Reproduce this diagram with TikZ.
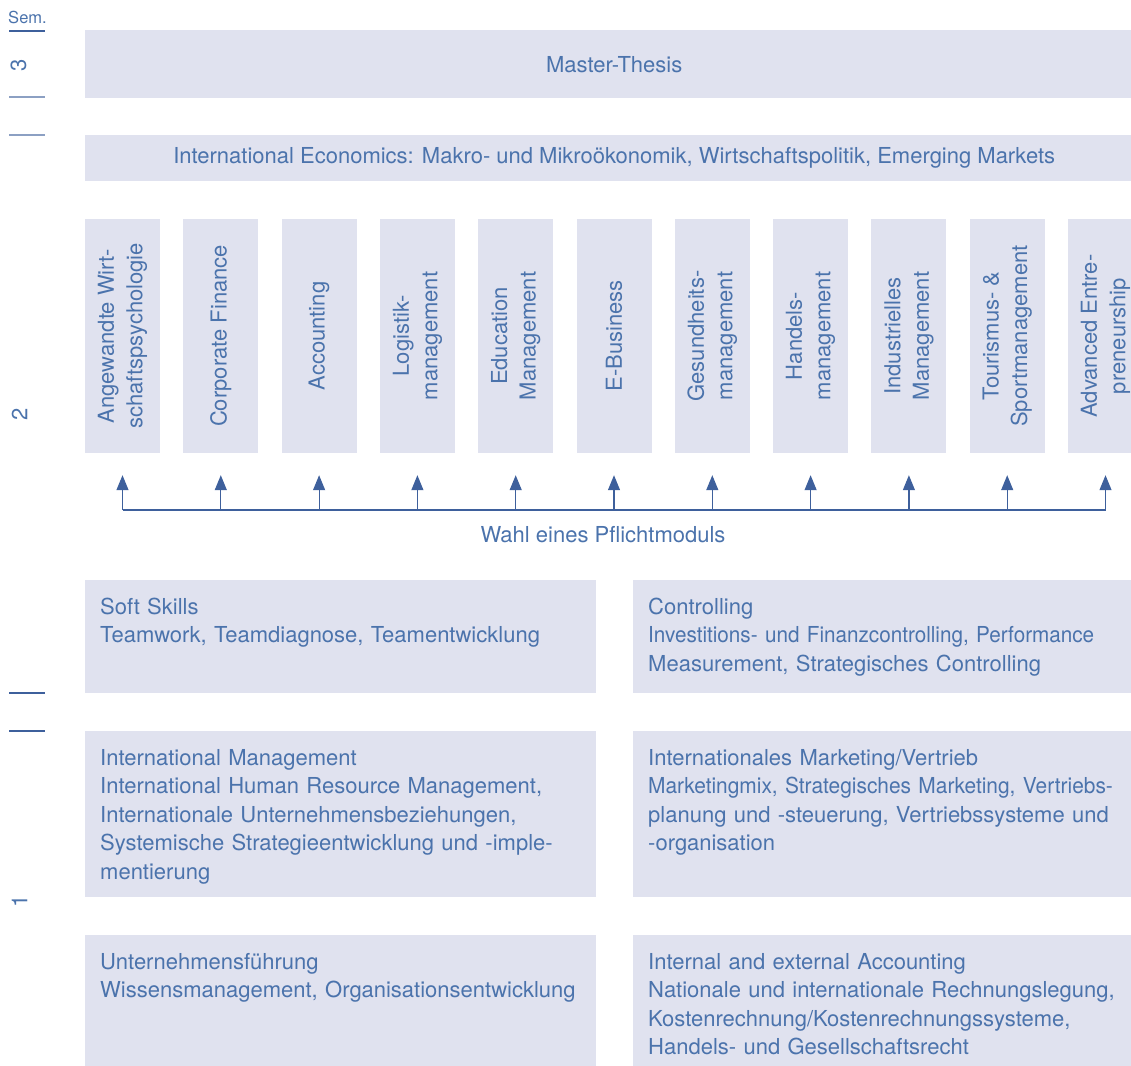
\documentclass[tikz,border=0pt]{standalone}
\usepackage{fontspec}
\setmainfont{TeX Gyre Heros}
\usetikzlibrary{arrows.meta}

\definecolor{semblue}{RGB}{75,115,172}
\definecolor{semline}{RGB}{62,96,156}
\definecolor{semgrey}{RGB}{140,160,195}
\definecolor{semfill}{RGB}{224,226,239}

\newcommand{\narrowline}[2]{{\addfontfeature{FakeStretch=#1}#2}}

\begin{document}
\begin{tikzpicture}[x=1pt,y=-1pt,
    font=\fontsize{22}{28.5}\selectfont,
    every node/.style={text=semblue}]

      \useasboundingbox (0,0) rectangle (1131,1065);
      \clip (0,0) rectangle (1131,1065);

      % semester scale
      \node[font=\fontsize{16.5}{18}\selectfont, anchor=base] (sem) at (27.5,24) {Sem.};
      \node[rotate=90] (s3) at (18.5,65) {3};
      \node[rotate=90] (s2) at (19.5,414) {2};
      \node[rotate=90] (s1) at (19.5,901) {1};
      \draw[semline, line width=1.4pt] (9,31) -- (45,31);
      \draw[semgrey, line width=1.4pt] (9,97) -- (45,97) (9,135) -- (45,135);
      \draw[semline, line width=1.4pt] (9,693) -- (45,693) (9,731) -- (45,731);

      \begin{scope}[every node/.style={fill=semfill,text=semblue,anchor=north west,
                                       minimum width=1058pt,inner sep=0pt}]
        \node[minimum height=68pt] (thesis) at (85,30)  {\raisebox{-2pt}{Master-Thesis}};
        \node[minimum height=46pt] (econ)   at (85,135) {International Economics: Makro- und Mikro\"okonomik, Wirtschaftspolitik, Emerging Markets};
      \end{scope}

      \begin{scope}[every node/.style={fill=semfill,text=semblue,rotate=90,align=center,
                                       minimum width=234pt,minimum height=75pt,inner sep=0pt}]
        \node (c1)  at (122.5,336)  {Angewandte Wirt-\\schaftspsychologie};
        \node (c2)  at (220.8,336)  {Corporate Finance};
        \node (c3)  at (319.1,336)  {Accounting};
        \node (c4)  at (417.4,336)  {Logistik-\\management};
        \node (c5)  at (515.7,336)  {Education\\Management};
        \node (c6)  at (614.0,336)  {E-Business};
        \node (c7)  at (712.3,336)  {Gesundheits-\\management};
        \node (c8)  at (810.6,336)  {Handels-\\management};
        \node (c9)  at (908.9,336)  {Industrielles\\Management};
        \node (c10) at (1007.2,336) {Tourismus- \&\\Sportmanagement};
        \node (c11) at (1105.5,336) {Advanced Entre-\\preneurship};
      \end{scope}

      \coordinate (w1)  at (122.5,510);
      \coordinate (w2)  at (220.8,510);
      \coordinate (w3)  at (319.1,510);
      \coordinate (w4)  at (417.4,510);
      \coordinate (w5)  at (515.7,510);
      \coordinate (w6)  at (614.0,510);
      \coordinate (w7)  at (712.3,510);
      \coordinate (w8)  at (810.6,510);
      \coordinate (w9)  at (908.9,510);
      \coordinate (w10) at (1007.2,510);
      \coordinate (w11) at (1105.5,510);

      \draw[semline, line width=1.2pt] (w1) -- (w11);

      \begin{scope}[every edge/.style={draw=semline,line width=1.2pt,
                                       -{Triangle[width=12pt,length=15pt]},shorten >=22pt}]
        \path (w1)  edge (c1);
        \path (w2)  edge (c2);
        \path (w3)  edge (c3);
        \path (w4)  edge (c4);
        \path (w5)  edge (c5);
        \path (w6)  edge (c6);
        \path (w7)  edge (c7);
        \path (w8)  edge (c8);
        \path (w9)  edge (c9);
        \path (w10) edge (c10);
        \path (w11) edge (c11);
      \end{scope}

      \node (wahl) at (603,535) {Wahl eines Pflichtmoduls};

      % left column, boxes end at 596
      \begin{scope}[every node/.style={fill=semfill,text=semblue,anchor=north west,
                                       text width=481pt,align=left,inner xsep=15pt,
                                       inner ysep=0pt,text height=34pt}]
        \node[text depth=79pt] (soft) at (85,580)
          {Soft Skills\\Teamwork, Teamdiagnose, Teamentwicklung};
        \node[text depth=132pt] (intman) at (85,731)
          {International Management\\International Human Resource Management,\\Internationale Unternehmensbeziehungen,\\Systemische Strategieentwicklung und -imple-\\mentierung};
        \node[text depth=116pt] (fuehr) at (85,935)
          {Unternehmensf\"uhrung\\Wissensmanagement, Organisationsentwicklung};
      \end{scope}

      % right column, cut off by the page edge
      \begin{scope}[every node/.style={fill=semfill,text=semblue,anchor=north west,
                                       text width=500pt,align=left,inner xsep=15pt,
                                       inner ysep=0pt,text height=34pt}]
        \node[text depth=79pt] (contr) at (633,580)
          {Controlling\\\narrowline{0.94}{Investitions- und Finanzcontrolling, Performance}\\Measurement, Strategisches Controlling};
        \node[text depth=132pt] (market) at (633,731)
          {Internationales Marketing/Vertrieb\\\narrowline{0.95}{Marketingmix, Strategisches Marketing, Vertriebs-}\\planung und -steuerung, Vertriebssysteme und\\-organisation};
        \node[text depth=116pt] (acc) at (633,935)
          {Internal and external Accounting\\Nationale und internationale Rechnungslegung,\\Kostenrechnung/Kostenrechnungssysteme,\\Handels- und Gesellschaftsrecht};
      \end{scope}

    \end{tikzpicture}
\end{document}
